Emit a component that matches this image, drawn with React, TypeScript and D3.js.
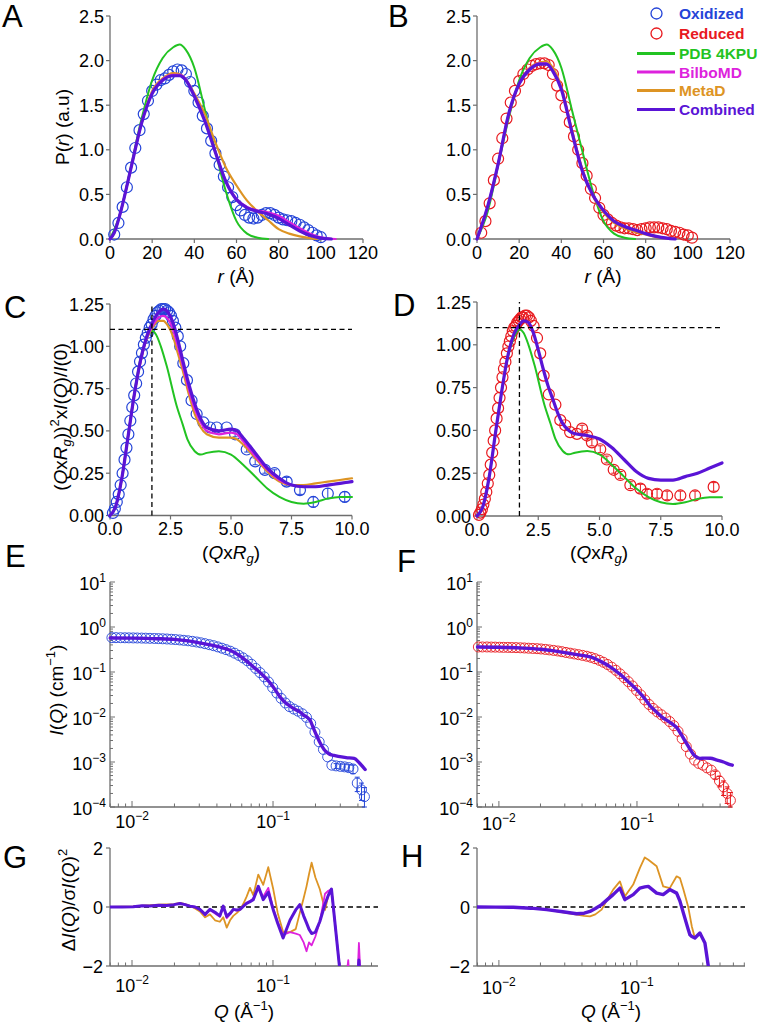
import React from "react";
import * as d3 from "d3";

// ---------------- colours / fonts ----------------
const FONT = "'Liberation Sans', Arial, Helvetica, sans-serif";
const AXIS_COL = "#6e6e6e";
const C_OX = "#2444d8";
const C_RED = "#e8191e";
const C_PDB = "#22c322";
const C_BILBO = "#dd22dd";
const C_META = "#dd9424";
const C_COMB = "#5a14d6";

// ---------------- Panel A : P(r) oxidized ----------------
const aOxR = [2,4,6,8,10,12,14,16,18,20,22,24,26,28,30,32,34,36,38,40,42,44,46,48,50,52,54,56,58,60,62,64,66,68,70,72,74,76,78,80,82,84,86,88,90,92,94,96,98,100];
const aOxP = [0.05,0.18,0.36,0.58,0.8,1.02,1.22,1.4,1.55,1.66,1.73,1.78,1.8,1.84,1.88,1.9,1.89,1.85,1.76,1.66,1.53,1.38,1.24,1.1,0.96,0.83,0.7,0.58,0.47,0.38,0.32,0.27,0.24,0.23,0.24,0.27,0.29,0.29,0.27,0.24,0.22,0.21,0.2,0.18,0.16,0.13,0.1,0.07,0.04,0.02];
const pdbR = [0,5,10,15,20,25,30,33,36,40,45,50,55,60,65,70,75];
const pdbP = [0,0.3,0.82,1.35,1.78,2.03,2.15,2.18,2.12,1.92,1.45,0.98,0.53,0.2,0.06,0.015,0];
const aCombR = [0,2,5,10,15,20,25,30,33,36,40,45,50,55,60,65,70,75,80,85,90,95,100,105];
const aCombP = [0,0.07,0.3,0.8,1.3,1.63,1.78,1.83,1.83,1.78,1.6,1.32,0.97,0.64,0.44,0.35,0.31,0.28,0.23,0.16,0.09,0.04,0.01,0];
const aBilboR = [0,2,5,10,15,20,25,30,33,36,40,45,50,55,60,65,70,75,80,85,90,95,100,107];
const aBilboP = [0,0.07,0.3,0.8,1.3,1.64,1.79,1.84,1.84,1.79,1.61,1.33,0.98,0.65,0.45,0.36,0.32,0.3,0.26,0.19,0.12,0.06,0.02,0];
const aMetaR = [0,2,5,10,15,20,25,30,33,36,40,45,50,55,60,65,70,75,80,85,90,95,98];
const aMetaP = [0,0.07,0.3,0.8,1.3,1.66,1.8,1.86,1.85,1.79,1.63,1.4,1.08,0.8,0.6,0.43,0.31,0.21,0.11,0.06,0.03,0.01,0];

// ---------------- Panel B : P(r) reduced ----------------
const bRedR = [2,4,6,8,10,12,14,16,18,20,22,24,26,28,30,32,34,36,38,40,42,44,46,48,50,52,54,56,58,60,62,64,66,68,70,72,74,76,78,80,82,84,86,88,90,92,94,96,98,100,102];
const bRedP = [0.07,0.2,0.4,0.66,0.9,1.13,1.35,1.53,1.66,1.77,1.85,1.9,1.94,1.96,1.97,1.97,1.95,1.85,1.72,1.61,1.48,1.31,1.15,1.0,0.85,0.71,0.56,0.46,0.35,0.27,0.22,0.18,0.15,0.13,0.12,0.12,0.11,0.1,0.11,0.12,0.13,0.13,0.13,0.12,0.11,0.09,0.08,0.07,0.05,0.04,0.015];
const bFitR = [0,5,10,15,20,25,30,33,36,40,45,50,55,60,65,70,75,80,85,90,94];
const bCombP = [0,0.36,0.84,1.4,1.74,1.9,1.96,1.96,1.88,1.68,1.2,0.76,0.49,0.32,0.2,0.14,0.1,0.06,0.03,0.01,0];
const bBilboP = [0,0.36,0.84,1.4,1.74,1.91,1.97,1.97,1.89,1.69,1.21,0.77,0.5,0.32,0.2,0.14,0.1,0.06,0.03,0.01,0];
const bMetaP = [0,0.35,0.84,1.38,1.74,1.92,1.98,1.99,1.92,1.71,1.23,0.78,0.48,0.3,0.18,0.12,0.08,0.05,0.02,0.01,0];

// ---------------- Panel C : Kratky oxidized ----------------
const cX = [0.12,0.2,0.28,0.36,0.44,0.52,0.6,0.68,0.76,0.84,0.92,1.0,1.08,1.16,1.24,1.32,1.4,1.48,1.56,1.64,1.72,1.8,1.88,1.96,2.04,2.12,2.2,2.28,2.36,2.44,2.52,2.6,2.7,2.8,2.9,3.03,3.18,3.37,3.58,3.86,4.13,4.41,4.82,5.17,5.65,6.0,6.4,6.8,7.3,7.85,8.4,9.0,9.7];
const cY = [0.015,0.04,0.08,0.125,0.18,0.25,0.33,0.4,0.48,0.56,0.64,0.71,0.78,0.85,0.91,0.96,1.01,1.05,1.08,1.11,1.13,1.16,1.18,1.2,1.21,1.22,1.22,1.22,1.21,1.2,1.18,1.15,1.11,1.06,1.0,0.9,0.8,0.68,0.6,0.55,0.52,0.52,0.52,0.48,0.39,0.32,0.27,0.25,0.2,0.15,0.08,0.13,0.11];
const cErr = [0,0,0,0,0,0,0,0,0,0,0,0,0,0,0,0,0,0,0,0,0,0,0,0,0,0,0,0,0,0,0,0,0,0,0,0,0,0,0,0,0,0,0,0.015,0.015,0.02,0.02,0.02,0.025,0.025,0.03,0.03,0.03];
const kPdbX = [0,0.25,0.5,0.75,1.0,1.25,1.5,1.75,1.9,2.1,2.35,2.75,3.0,3.2,3.5,3.75,4.0,4.5,5.0,5.5,6.0,6.5,7.0,7.5,8.0,8.5,9.0,9.5,10.0];
const kPdbY = [0,0.06,0.23,0.48,0.72,0.92,1.04,1.09,1.07,1.0,0.88,0.65,0.54,0.45,0.38,0.36,0.37,0.38,0.36,0.3,0.23,0.16,0.11,0.08,0.07,0.08,0.1,0.11,0.11];
const cFitX = [0,0.25,0.5,0.75,1.0,1.25,1.5,1.75,2.0,2.2,2.4,2.6,2.8,3.0,3.25,3.5,3.75,4.0,4.5,5.0,5.25,5.5,6.0,6.5,7.0,7.5,8.0,8.5,9.0,9.5,10.0];
const cCombY = [0,0.06,0.23,0.47,0.71,0.91,1.05,1.14,1.2,1.22,1.2,1.14,1.04,0.92,0.78,0.66,0.57,0.52,0.5,0.51,0.5,0.46,0.37,0.28,0.22,0.18,0.17,0.17,0.18,0.19,0.2];
const cBilboY = [0,0.06,0.23,0.47,0.71,0.9,1.04,1.12,1.17,1.18,1.16,1.1,1.0,0.89,0.75,0.63,0.55,0.5,0.48,0.49,0.48,0.44,0.35,0.27,0.21,0.18,0.17,0.17,0.18,0.19,0.2];
const cMetaY = [0,0.06,0.23,0.47,0.71,0.9,1.04,1.11,1.15,1.15,1.12,1.06,0.96,0.86,0.72,0.6,0.52,0.48,0.46,0.46,0.45,0.42,0.34,0.26,0.2,0.18,0.18,0.19,0.2,0.21,0.22];

// ---------------- Panel D : Kratky reduced ----------------
const dX = [0.08,0.14,0.2,0.26,0.32,0.38,0.44,0.5,0.56,0.62,0.68,0.74,0.8,0.86,0.92,0.98,1.04,1.1,1.16,1.22,1.28,1.34,1.4,1.46,1.52,1.58,1.64,1.7,1.76,1.82,1.88,1.96,2.04,2.12,2.2,2.31,2.45,2.58,2.72,2.93,3.2,3.4,3.6,3.8,4.08,4.29,4.49,4.69,5.03,5.3,5.58,5.85,6.26,6.67,6.94,7.35,7.76,8.3,8.9,9.66];
const dY = [0.006,0.02,0.04,0.067,0.1,0.14,0.19,0.24,0.3,0.37,0.44,0.5,0.57,0.63,0.69,0.75,0.81,0.86,0.9,0.95,0.99,1.02,1.05,1.08,1.1,1.11,1.13,1.14,1.15,1.16,1.16,1.17,1.17,1.16,1.14,1.11,1.04,0.95,0.82,0.71,0.65,0.56,0.53,0.49,0.48,0.51,0.47,0.43,0.39,0.33,0.27,0.24,0.18,0.16,0.13,0.13,0.12,0.12,0.12,0.17];
const dErr = [0,0,0,0,0,0,0,0,0,0,0,0,0,0,0,0,0,0,0,0,0,0,0,0,0,0,0,0,0,0,0,0,0,0,0,0,0,0,0,0,0,0,0,0,0,0.02,0.02,0.02,0.02,0.02,0.02,0.02,0.02,0.025,0.025,0.025,0.025,0.025,0.025,0.025];
const dFitX = [0,0.25,0.5,0.75,1.0,1.25,1.5,1.75,1.9,2.1,2.3,2.5,2.7,2.9,3.1,3.3,3.5,3.75,4.0,4.5,5.0,5.5,6.0,6.5,7.0,7.5,8.0,8.5,9.0,9.5,10.0];
const dCombY = [0,0.06,0.23,0.48,0.72,0.93,1.06,1.12,1.14,1.13,1.07,0.97,0.86,0.76,0.68,0.6,0.54,0.5,0.48,0.47,0.45,0.4,0.33,0.26,0.22,0.21,0.21,0.23,0.25,0.28,0.31];

// ---------------- Panel E : I(Q) oxidized ----------------
const eQ = [0.0072,0.0077,0.0083,0.0089,0.0095,0.0102,0.0109,0.0117,0.0125,0.0134,0.0144,0.0154,0.0165,0.0177,0.019,0.0203,0.0218,0.0233,0.025,0.0268,0.0287,0.0307,0.0329,0.0353,0.0378,0.0405,0.0434,0.0465,0.0498,0.0534,0.0572,0.0613,0.0657,0.0704,0.0754,0.0808,0.0866,0.0928,0.0994,0.1065,0.1141,0.1223,0.131,0.1404,0.1504,0.1612,0.1727,0.185,0.1983,0.2125,0.2277,0.244,0.2614,0.2801,0.3001,0.3216,0.3446,0.3692,0.3956,0.424,0.445];
const eI = [0.58,0.58,0.578,0.576,0.574,0.572,0.57,0.567,0.564,0.56,0.556,0.552,0.547,0.541,0.534,0.526,0.516,0.506,0.494,0.48,0.464,0.446,0.426,0.405,0.385,0.362,0.338,0.314,0.29,0.262,0.234,0.206,0.178,0.148,0.12,0.097,0.078,0.06,0.045,0.034,0.026,0.0205,0.017,0.015,0.0135,0.0118,0.0098,0.0072,0.0046,0.0028,0.0019,0.0013,0.00085,0.00082,0.0008,0.00078,0.00075,0.0007,0.00034,0.00024,0.00017];
const eErr = [0,0,0,0,0,0,0,0,0,0,0,0,0,0,0,0,0,0,0,0,0,0,0,0,0,0,0,0,0,0,0,0,0,0,0,0,0,0,0,0,0,0,0,0,0,0,0,0,0,0,0,0,0,0.0001,0.0001,0.00012,0.00012,0.00015,0.00012,0.0001,0.0001];
const eFitQ = [0.007,0.01,0.015,0.02,0.025,0.03,0.04,0.05,0.058,0.065,0.072,0.08,0.09,0.1,0.112,0.122,0.132,0.145,0.155,0.166,0.175,0.183,0.194,0.205,0.215,0.23,0.25,0.27,0.29,0.33,0.376,0.41,0.45];
const eFitI = [0.57,0.565,0.55,0.53,0.49,0.445,0.37,0.3,0.23,0.175,0.133,0.1,0.07,0.047,0.028,0.021,0.0175,0.0145,0.013,0.0108,0.0098,0.0085,0.0055,0.0037,0.0027,0.0019,0.0015,0.0014,0.00133,0.00125,0.0012,0.00095,0.00068];

// ---------------- Panel F : I(Q) reduced ----------------
const fQ = [0.0071,0.0076,0.0082,0.0088,0.0094,0.0101,0.0108,0.0116,0.0124,0.0133,0.0143,0.0153,0.0164,0.0176,0.0189,0.0202,0.0217,0.0232,0.0249,0.0267,0.0286,0.0306,0.0328,0.0352,0.0377,0.0404,0.0433,0.0464,0.0497,0.0533,0.0571,0.0612,0.0656,0.0703,0.0753,0.0807,0.0865,0.0927,0.0993,0.1064,0.114,0.1222,0.1309,0.1403,0.1503,0.1611,0.1726,0.1849,0.1982,0.2124,0.2276,0.2439,0.2613,0.28,0.3,0.3215,0.3445,0.3691,0.3955,0.4238,0.45,0.475];
const fI = [0.36,0.36,0.36,0.358,0.357,0.355,0.353,0.352,0.35,0.348,0.345,0.342,0.338,0.334,0.33,0.325,0.318,0.31,0.302,0.293,0.283,0.272,0.262,0.252,0.243,0.234,0.224,0.212,0.198,0.182,0.165,0.147,0.128,0.109,0.091,0.075,0.061,0.049,0.039,0.031,0.024,0.019,0.0155,0.013,0.0112,0.0095,0.0079,0.0064,0.0048,0.0033,0.0022,0.0015,0.0011,0.00093,0.00085,0.00074,0.00066,0.00052,0.00038,0.00028,0.0002,0.00014];
const fErr = [0,0,0,0,0,0,0,0,0,0,0,0,0,0,0,0,0,0,0,0,0,0,0,0,0,0,0,0,0,0,0,0,0,0,0,0,0,0,0,0,0,0,0,0,0,0,0,0,0,0,0,0,0,0,0,0,0,0.0001,0.0001,0.0001,0.00008,0.00007];
const fFitQ = [0.007,0.01,0.015,0.02,0.025,0.03,0.035,0.04,0.046,0.055,0.064,0.075,0.089,0.1,0.11,0.124,0.14,0.155,0.164,0.18,0.194,0.21,0.225,0.243,0.26,0.286,0.31,0.34,0.38,0.423,0.46,0.49];
const fFitI = [0.36,0.355,0.34,0.32,0.295,0.27,0.25,0.235,0.216,0.17,0.13,0.09,0.056,0.04,0.029,0.018,0.0125,0.0095,0.0085,0.007,0.0058,0.004,0.0028,0.0019,0.0014,0.0012,0.00122,0.00121,0.0011,0.001,0.0009,0.00085];

// ---------------- Panel G : residuals oxidized ----------------
const gQ = [0.007,0.0085,0.0102,0.0118,0.0134,0.0155,0.0176,0.0198,0.0219,0.0238,0.0258,0.028,0.0303,0.033,0.0357,0.0388,0.042,0.0444,0.047,0.0496,0.0523,0.0555,0.0584,0.0615,0.065,0.0687,0.0725,0.0787,0.0853,0.0926,0.1005,0.108,0.118,0.132,0.145,0.155,0.165,0.173,0.18,0.188,0.2,0.215,0.234,0.247,0.26,0.299,0.32,0.342,0.36,0.39,0.407,0.43];
const gComb = [0,0,0.01,0.04,0.03,0.06,0.05,0.08,0.12,0.08,0.03,0,-0.08,-0.25,-0.08,-0.18,-0.3,0.03,-0.32,-0.22,-0.08,-0.1,-0.08,0.02,0.12,0.18,0.25,0.7,0.25,0.5,-0.1,-0.55,-1.05,-0.45,-0.1,0.08,-0.3,-0.54,-0.75,-0.9,-0.85,-0.49,0.1,0.4,0.61,-2.2,-3,-3.5,-3.5,-3.5,-1.8,-3.5];
const gBilbo = [0,0,0.01,0.04,0.03,0.06,0.05,0.08,0.12,0.08,0.03,0,-0.1,-0.28,-0.1,-0.22,-0.33,0,-0.38,-0.25,-0.1,-0.12,-0.08,0.02,0.15,0.2,0.3,0.62,0.35,0.65,-0.05,-0.5,-0.95,-0.85,-0.9,-0.95,-1.2,-1.5,-1.2,-1.3,-1.0,-0.5,0.45,0.55,0.6,-2.2,-3,-1.8,-3.5,-3.5,-1.22,-3.5];
const gMeta = [0,0.01,0.02,0.05,0.06,0.08,0.09,0.1,0.14,0.1,0.04,-0.05,-0.15,-0.35,-0.25,-0.45,-0.5,-0.35,-0.7,-0.45,-0.3,-0.2,-0.1,0.1,0.35,0.65,0.4,1.1,0.75,1.35,0.6,-0.2,-0.85,-0.85,-0.75,-0.2,0.3,0.7,1.1,1.5,1.0,0.6,-0.1,0.4,0.6,-2.2,-3,-3.5,-3.5,-3.5,-3.5,-3.5];

// ---------------- Panel H : residuals reduced ----------------
const hQ = [0.0069,0.0095,0.0127,0.017,0.0222,0.029,0.0366,0.0415,0.0457,0.05,0.0555,0.061,0.0673,0.0753,0.0818,0.094,0.105,0.114,0.121,0.139,0.155,0.173,0.194,0.205,0.217,0.235,0.242,0.25,0.263,0.286,0.311,0.329,0.35];
const hComb = [0,-0.005,-0.01,-0.04,-0.09,-0.16,-0.23,-0.21,-0.15,-0.05,0.08,0.25,0.42,0.64,0.25,0.42,0.64,0.68,0.7,0.47,0.42,0.59,0.47,0.2,-0.2,-0.75,-0.94,-1.0,-1.05,-0.88,-1.22,-2.0,-3.5];
const hMeta = [0,-0.005,-0.01,-0.04,-0.09,-0.18,-0.26,-0.3,-0.32,-0.25,-0.09,0.25,0.59,0.87,0.36,0.76,1.32,1.68,1.6,1.38,0.7,0.64,1.04,0.98,0.6,0.02,-0.3,-0.66,-1.05,-0.88,-1.22,-2.0,-3.5];

// ---------------- tick / legend lists ----------------
const prTicksX = [0,20,40,60,80,100,120];
const prTicksY = [0,0.5,1,1.5,2,2.5];
const krTicksX = [0,2.5,5,7.5,10];
const krTicksY = [0,0.25,0.5,0.75,1,1.25];
const iqExpY = [1,0,-1,-2,-3,-4];
const resTicksY = [-2,0,2];
const legendItems = [
  { label: "Oxidized", color: C_OX, kind: "circle" },
  { label: "Reduced", color: C_RED, kind: "circle" },
  { label: "PDB 4KPU", color: C_PDB, kind: "line" },
  { label: "BilboMD", color: C_BILBO, kind: "line" },
  { label: "MetaD", color: C_META, kind: "line" },
  { label: "Combined", color: C_COMB, kind: "line" },
];

type Sc = (v: number) => number;

function pathOf(x: Sc, y: Sc, xs: number[], ys: number[], curve: any = d3.curveMonotoneX) {
  const pts = xs.map((v, i) => [v, ys[i]] as [number, number]);
  return d3.line<[number, number]>().x(d => x(d[0])).y(d => y(d[1])).curve(curve)(pts) || "";
}

function Line({ x, y, xs, ys, color, w = 2, curve, clip }: any) {
  return <path d={pathOf(x, y, xs, ys, curve)} fill="none" stroke={color} strokeWidth={w}
    strokeLinejoin="round" strokeLinecap="round" clipPath={clip} />;
}

function Circles({ x, y, xs, ys, errs, color, r = 5.5, sw = 1.2, ymin = -Infinity }: any) {
  return <g>
    {xs.map((v: number, i: number) => {
      const cx = x(v), cy = y(ys[i]);
      const e = errs ? errs[i] : 0;
      return <g key={i}>
        <circle cx={cx} cy={cy} r={r} fill="none" stroke={color} strokeWidth={sw} />
        {e > 0 && (() => {
          const y1 = y(Math.max(ys[i] - e, ymin)), y2 = y(ys[i] + e);
          return <g stroke={color} strokeWidth={1}>
            <line x1={cx} x2={cx} y1={y1} y2={y2} />
            <line x1={cx - 2.5} x2={cx + 2.5} y1={y1} y2={y1} />
            <line x1={cx - 2.5} x2={cx + 2.5} y1={y2} y2={y2} />
          </g>;
        })()}
      </g>;
    })}
  </g>;
}

function LinAxes({ x, y, xTicks, yTicks, xFmt, yFmt, xDy = 20 }: any) {
  const [xl, xr] = x.range();
  const [yb, yt] = y.range();
  return <g fontFamily={FONT} fontSize={18} fill="#000">
    <line x1={xl} x2={xl} y1={yb} y2={yt} stroke={AXIS_COL} strokeWidth={1.3} />
    <line x1={xl} x2={xr} y1={yb} y2={yb} stroke={AXIS_COL} strokeWidth={1.3} />
    {yTicks.map((t: number) => <g key={"y" + t}>
      <line x1={xl - 4} x2={xl} y1={y(t)} y2={y(t)} stroke={AXIS_COL} strokeWidth={1.2} />
      <text x={xl - 6} y={y(t) + 6.5} textAnchor="end">{yFmt(t)}</text>
    </g>)}
    {xTicks.map((t: number) => <g key={"x" + t}>
      <line x1={x(t)} x2={x(t)} y1={yb} y2={yb + 4} stroke={AXIS_COL} strokeWidth={1.2} />
      <text x={x(t)} y={yb + xDy} textAnchor="middle">{xFmt(t)}</text>
    </g>)}
  </g>;
}

function Pow10({ e }: { e: number }) {
  return <>
    <tspan>10</tspan>
    <tspan dy={-8} fontSize={12}>{e < 0 ? "\u2212" + -e : String(e)}</tspan>
  </>;
}

function LogXAxis({ x, yb, labelDy }: any) {
  const [xl, xr] = x.range();
  const ticks: number[] = x.ticks();
  return <g fontFamily={FONT} fontSize={18}>
    <line x1={xl} x2={xr} y1={yb} y2={yb} stroke={AXIS_COL} strokeWidth={1.3} />
    {ticks.map((t: number, i: number) => {
      const lg = Math.log10(t);
      const major = Math.abs(lg - Math.round(lg)) < 1e-6;
      return <g key={i}>
        <line x1={x(t)} x2={x(t)} y1={yb} y2={yb - (major ? 6 : 3.5)} stroke={AXIS_COL} strokeWidth={1} />
        {major && <text x={x(t)} y={yb + labelDy} textAnchor="middle"><Pow10 e={Math.round(lg)} /></text>}
      </g>;
    })}
  </g>;
}

function LogYAxis({ y, xl, exps }: any) {
  const [yb, yt] = y.range();
  const ticks: number[] = y.ticks();
  return <g fontFamily={FONT} fontSize={18}>
    <line x1={xl} x2={xl} y1={yb} y2={yt} stroke={AXIS_COL} strokeWidth={1.3} />
    {ticks.map((t: number, i: number) => {
      const lg = Math.log10(t);
      const major = Math.abs(lg - Math.round(lg)) < 1e-6;
      return <line key={i} x1={xl} x2={xl + (major ? 5 : 3)} y1={y(t)} y2={y(t)} stroke={AXIS_COL} strokeWidth={1} />;
    })}
    {exps.map((e: number) => <text key={e} x={xl - 4} y={y(Math.pow(10, e)) + 8} textAnchor="end"><Pow10 e={e} /></text>)}
  </g>;
}

function ResYAxis({ y, xl }: any) {
  const [yb, yt] = y.range();
  return <g fontFamily={FONT} fontSize={18}>
    <line x1={xl} x2={xl} y1={yb} y2={yt} stroke={AXIS_COL} strokeWidth={1.3} />
    {resTicksY.map(t => <g key={t}>
      <line x1={xl - 4} x2={xl} y1={y(t)} y2={y(t)} stroke={AXIS_COL} strokeWidth={1.2} />
      <text x={xl - 7} y={y(t) + 6.5} textAnchor="end">{t < 0 ? "\u2212" + -t : String(t)}</text>
    </g>)}
  </g>;
}

const it = { fontStyle: "italic" } as const;

export default function App() {
  // scales
  const xA = d3.scaleLinear().domain([0, 120]).range([110, 363]);
  const yA = d3.scaleLinear().domain([0, 2.5]).range([239, 16]);
  const xB = d3.scaleLinear().domain([0, 120]).range([477, 730]);
  const yB = d3.scaleLinear().domain([0, 2.5]).range([239, 16]);
  const xC = d3.scaleLinear().domain([0, 10]).range([110, 352]);
  const yC = d3.scaleLinear().domain([0, 1.25]).range([515.5, 304]);
  const xD = d3.scaleLinear().domain([0, 10]).range([477, 722]);
  const yD = d3.scaleLinear().domain([0, 1.25]).range([516, 302]);
  const xE = d3.scaleLog().domain([0.00698, 0.449]).range([110, 365]);
  const yE = d3.scaleLog().domain([1e-4, 10]).range([807, 582]);
  const xF = d3.scaleLog().domain([0.00694, 0.4877]).range([477, 732]);
  const yF = d3.scaleLog().domain([1e-4, 10]).range([807, 582]);
  const xG = d3.scaleLog().domain([0.00698, 0.556]).range([110, 378]);
  const yG = d3.scaleLinear().domain([-2, 2]).range([966, 848]);
  const xH = d3.scaleLog().domain([0.00694, 0.607]).range([477, 745]);
  const yH = d3.scaleLinear().domain([-2, 2]).range([966, 848]);

  const f1 = d3.format(".1f");
  const f2 = d3.format(".2f");
  const fd = d3.format("d");

  const dash = "5,3.5";

  return (
    <svg width={758} height={1027} style={{ position: "absolute", left: 0, top: 0, background: "#fff" }}
      fontFamily={FONT}>
      <defs>
        <clipPath id="clipG"><rect x={110} y={848} width={270} height={118} /></clipPath>
        <clipPath id="clipH"><rect x={477} y={848} width={270} height={118} /></clipPath>
      </defs>

      {/* panel letters */}
      <g fontFamily={FONT} fontSize={31} fill="#000">
        <text x={2} y={27}>A</text>
        <text x={388} y={27}>B</text>
        <text x={4} y={318}>C</text>
        <text x={393} y={316}>D</text>
        <text x={5} y={567}>E</text>
        <text x={397} y={572}>F</text>
        <text x={3} y={868}>G</text>
        <text x={401} y={867}>H</text>
      </g>

      {/* ---------- A ---------- */}
      <LinAxes x={xA} y={yA} xTicks={prTicksX} yTicks={prTicksY} xFmt={fd} yFmt={f1} />
      <Circles x={xA} y={yA} xs={aOxR} ys={aOxP} color={C_OX} />
      <Line x={xA} y={yA} xs={pdbR} ys={pdbP} color={C_PDB} w={2} />
      <Line x={xA} y={yA} xs={aMetaR} ys={aMetaP} color={C_META} w={2.2} />
      <Line x={xA} y={yA} xs={aBilboR} ys={aBilboP} color={C_BILBO} w={2.2} />
      <Line x={xA} y={yA} xs={aCombR} ys={aCombP} color={C_COMB} w={3.2} />
      <text transform="translate(69,127) rotate(-90)" textAnchor="middle" fontSize={19}>
        P(<tspan style={it}>r</tspan>) (a.u)
      </text>
      <text x={236} y={283} textAnchor="middle" fontSize={19}><tspan style={it}>r</tspan> (Å)</text>

      {/* ---------- B ---------- */}
      <LinAxes x={xB} y={yB} xTicks={prTicksX} yTicks={prTicksY} xFmt={fd} yFmt={f1} />
      <Circles x={xB} y={yB} xs={bRedR} ys={bRedP} color={C_RED} />
      <Line x={xB} y={yB} xs={pdbR} ys={pdbP} color={C_PDB} w={2} />
      <Line x={xB} y={yB} xs={bFitR} ys={bMetaP} color={C_META} w={2.2} />
      <Line x={xB} y={yB} xs={bFitR} ys={bBilboP} color={C_BILBO} w={2.2} />
      <Line x={xB} y={yB} xs={bFitR} ys={bCombP} color={C_COMB} w={3.2} />
      <text x={603} y={283} textAnchor="middle" fontSize={19}><tspan style={it}>r</tspan> (Å)</text>

      {/* legend */}
      <g fontFamily={FONT} fontWeight="bold" fontSize={15.5}>
        {legendItems.map((d, i) => {
          const cy = [13.5, 33.5, 53.5, 72, 90.5, 109.5][i];
          return <g key={d.label}>
            {d.kind === "circle"
              ? <circle cx={656.5} cy={cy} r={5.5} fill="none" stroke={d.color} strokeWidth={1.3} />
              : <line x1={637} x2={675} y1={cy} y2={cy} stroke={d.color} strokeWidth={3} />}
            <text x={679} y={cy + 5.5} fill={d.color}>{d.label}</text>
          </g>;
        })}
      </g>

      {/* ---------- C ---------- */}
      <LinAxes x={xC} y={yC} xTicks={krTicksX} yTicks={krTicksY} xFmt={f1} yFmt={f2} xDy={19.5} />
      <Circles x={xC} y={yC} xs={cX} ys={cY} errs={cErr} color={C_OX} />
      <Line x={xC} y={yC} xs={kPdbX} ys={kPdbY} color={C_PDB} w={2} />
      <Line x={xC} y={yC} xs={cFitX} ys={cMetaY} color={C_META} w={2.2} />
      <Line x={xC} y={yC} xs={cFitX} ys={cBilboY} color={C_BILBO} w={2.2} />
      <Line x={xC} y={yC} xs={cFitX} ys={cCombY} color={C_COMB} w={3.2} />
      <line x1={xC(0)} x2={xC(10)} y1={yC(1.1)} y2={yC(1.1)} stroke="#000" strokeWidth={1.3} strokeDasharray={dash} />
      <line x1={xC(Math.sqrt(3))} x2={xC(Math.sqrt(3))} y1={yC(0)} y2={yC(1.25)} stroke="#000" strokeWidth={1.3} strokeDasharray={dash} />
      <text transform="translate(67,417) rotate(-90)" textAnchor="middle" fontSize={19}>
        (<tspan style={it}>Q</tspan>x<tspan style={it}>R</tspan><tspan style={it} fontSize={13} dy={4}>g</tspan>
        <tspan dy={-4}>))</tspan><tspan fontSize={13} dy={-8}>2</tspan><tspan dy={8}>x</tspan><tspan style={it}>I</tspan>(<tspan style={it}>Q</tspan>)/<tspan style={it}>I</tspan>(0)
      </text>
      <text x={231} y={559} textAnchor="middle" fontSize={19}>
        (<tspan style={it}>Q</tspan>x<tspan style={it}>R</tspan><tspan style={it} fontSize={13} dy={4}>g</tspan><tspan dy={-4}>)</tspan>
      </text>

      {/* ---------- D ---------- */}
      <LinAxes x={xD} y={yD} xTicks={krTicksX} yTicks={krTicksY} xFmt={f1} yFmt={f2} xDy={19.5} />
      <Circles x={xD} y={yD} xs={dX} ys={dY} errs={dErr} color={C_RED} />
      <Line x={xD} y={yD} xs={kPdbX} ys={kPdbY} color={C_PDB} w={2} />
      <Line x={xD} y={yD} xs={dFitX} ys={dCombY} color={C_COMB} w={3.2} />
      <line x1={xD(0)} x2={xD(10)} y1={yD(1.1)} y2={yD(1.1)} stroke="#000" strokeWidth={1.3} strokeDasharray={dash} />
      <line x1={xD(Math.sqrt(3))} x2={xD(Math.sqrt(3))} y1={yD(0)} y2={yD(1.25)} stroke="#000" strokeWidth={1.3} strokeDasharray={dash} />
      <text x={599} y={559} textAnchor="middle" fontSize={19}>
        (<tspan style={it}>Q</tspan>x<tspan style={it}>R</tspan><tspan style={it} fontSize={13} dy={4}>g</tspan><tspan dy={-4}>)</tspan>
      </text>

      {/* ---------- E ---------- */}
      <LogYAxis y={yE} xl={110} exps={iqExpY} />
      <LogXAxis x={xE} yb={807} labelDy={21} />
      <Circles x={xE} y={yE} xs={eQ} ys={eI} errs={eErr} color={C_OX} r={5} sw={0.9} ymin={1e-4} />
      <Line x={xE} y={yE} xs={eFitQ} ys={eFitI} color={C_COMB} w={3.4} />
      <text transform="translate(63,690) rotate(-90)" textAnchor="middle" fontSize={19}>
        <tspan style={it}>I</tspan>(<tspan style={it}>Q</tspan>) (cm<tspan fontSize={13} dy={-8}>{"\u2212"}1</tspan><tspan dy={8}>)</tspan>
      </text>

      {/* ---------- F ---------- */}
      <LogYAxis y={yF} xl={477} exps={iqExpY} />
      <LogXAxis x={xF} yb={807} labelDy={23} />
      <Circles x={xF} y={yF} xs={fQ} ys={fI} errs={fErr} color={C_RED} r={5} sw={0.9} ymin={1e-4} />
      <Line x={xF} y={yF} xs={fFitQ} ys={fFitI} color={C_COMB} w={3.4} />

      {/* ---------- G ---------- */}
      <ResYAxis y={yG} xl={110} />
      <LogXAxis x={xG} yb={966} labelDy={26} />
      <line x1={110} x2={378} y1={yG(0)} y2={yG(0)} stroke="#000" strokeWidth={1.3} strokeDasharray={dash} />
      <Line x={xG} y={yG} xs={gQ} ys={gMeta} color={C_META} w={1.8} curve={d3.curveLinear} clip="url(#clipG)" />
      <Line x={xG} y={yG} xs={gQ} ys={gBilbo} color={C_BILBO} w={1.8} curve={d3.curveLinear} clip="url(#clipG)" />
      <Line x={xG} y={yG} xs={gQ} ys={gComb} color={C_COMB} w={3} curve={d3.curveLinear} clip="url(#clipG)" />
      <text transform="translate(75,900) rotate(-90)" textAnchor="middle" fontSize={19}>
        Δ<tspan style={it}>I</tspan>(<tspan style={it}>Q</tspan>)/σ<tspan style={it}>I</tspan>(<tspan style={it}>Q</tspan>)<tspan fontSize={13} dy={-8}>2</tspan>
      </text>
      <text x={244} y={1018} textAnchor="middle" fontSize={19}>
        <tspan style={it}>Q</tspan> (Å<tspan fontSize={13} dy={-8}>{"\u2212"}1</tspan><tspan dy={8}>)</tspan>
      </text>

      {/* ---------- H ---------- */}
      <ResYAxis y={yH} xl={477} />
      <LogXAxis x={xH} yb={966} labelDy={28} />
      <line x1={477} x2={745} y1={yH(0)} y2={yH(0)} stroke="#000" strokeWidth={1.3} strokeDasharray={dash} />
      <Line x={xH} y={yH} xs={hQ} ys={hMeta} color={C_META} w={1.8} curve={d3.curveLinear} clip="url(#clipH)" />
      <Line x={xH} y={yH} xs={hQ} ys={hComb} color={C_COMB} w={3.4} curve={d3.curveLinear} clip="url(#clipH)" />
      <text x={611} y={1018} textAnchor="middle" fontSize={19}>
        <tspan style={it}>Q</tspan> (Å<tspan fontSize={13} dy={-8}>{"\u2212"}1</tspan><tspan dy={8}>)</tspan>
      </text>
    </svg>
  );
}
